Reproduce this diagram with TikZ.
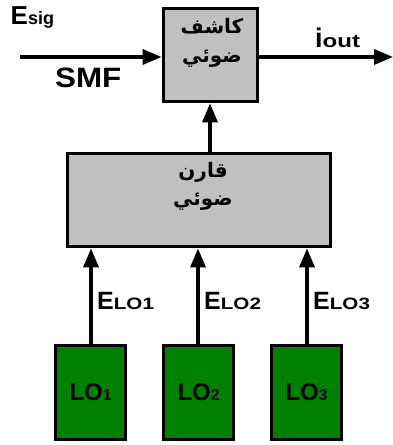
\documentclass[tikz,border=0pt]{standalone}
\usepackage{fontspec}
\setmainfont{Liberation Sans}
\newfontfamily\arabicfont[Script=Arabic]{DejaVu Sans}
\TeXXeTstate=1
\usetikzlibrary{arrows.meta}
\definecolor{boxgray}{RGB}{192,192,192}
\definecolor{logreen}{RGB}{0,128,0}
\tikzset{
  blk/.style={draw=black, line width=3.8pt, inner sep=0pt},
  graybox/.style={blk, fill=boxgray},
  lobox/.style={blk, fill=logreen, minimum width=70pt, minimum height=94pt,
     font=\fontsize{24}{24}\selectfont\bfseries},
  arr/.style={line width=3.3pt, -{Triangle[length=19pt,width=15pt]}},
  lbl/.style={inner sep=0pt, anchor=base west, font=\fontsize{25}{25}\selectfont\bfseries},
  arab/.style={inner sep=0pt, anchor=base, font=\arabicfont\fontsize{20}{20}\selectfont\bfseries},
}
\newcommand{\sbs}[1]{{\fontsize{15.5}{15.5}\selectfont #1}}
\newcommand{\wsbs}[1]{\scalebox{1.25}[1]{\fontsize{16.5}{16.5}\selectfont #1}}
\begin{document}
\begin{tikzpicture}[x=1pt,y=-1pt]
\useasboundingbox (0,0) rectangle (393,445);
% detector
\node[graybox, minimum width=94pt, minimum height=93pt] (det) at (210.5,55) {};
\node[arab] (det1) at (212,33) {\beginR كاشف\endR};
\node[arab] (det2) at (212,62) {\beginR ضوئي\endR};
% combiner
\node[graybox, minimum width=263pt, minimum height=93pt] (comb) at (199,200) {};
\node[arab] (comb1) at (203,177) {\beginR قارن\endR};
\node[arab] (comb2) at (203,205) {\beginR ضوئي\endR};
% LO boxes
\node[lobox] (lo1) at (90.5,392.5) {LO\sbs{1}};
\node[lobox] (lo2) at (198.5,392.5) {LO\sbs{2}};
\node[lobox] (lo3) at (306.5,392.5) {LO\sbs{3}};
% input / output
\coordinate (inbeg) at (20,57);
\coordinate (outend) at (393,57);
\draw[arr] (inbeg) -- (det.west |- inbeg);
\draw[arr] (det.east |- outend) -- (outend);
\draw[arr] (comb.north -| 210,0) -- (det.south -| 210,0);
% LO arrows
\draw[arr] (lo1.north -| 91,0) -- (comb.south -| 91,0);
\draw[arr] (lo2.north -| 198,0) -- (comb.south -| 198,0);
\draw[arr] (lo3.north -| 307,0) -- (comb.south -| 307,0);
% labels
\node[lbl, font=\fontsize{26}{26}\selectfont\bfseries] (esig) at (10.5,24.5) {E{\fontsize{18}{18}\selectfont sig}};
\node[lbl, font=\fontsize{28}{28}\selectfont\bfseries] (smf) at (55,87) {\scalebox{1.12}[1]{SMF}};
\node[lbl] (iout) at (315,47) {{\fontsize{27}{27}\selectfont i}\scalebox{1.3}[1]{\fontsize{18.5}{18.5}\selectfont out}};
\node[lbl] (elo1) at (97,309) {E\wsbs{LO1}};
\node[lbl] (elo2) at (204,309) {E\wsbs{LO2}};
\node[lbl] (elo3) at (313,309) {E\wsbs{LO3}};
\end{tikzpicture}
\end{document}
